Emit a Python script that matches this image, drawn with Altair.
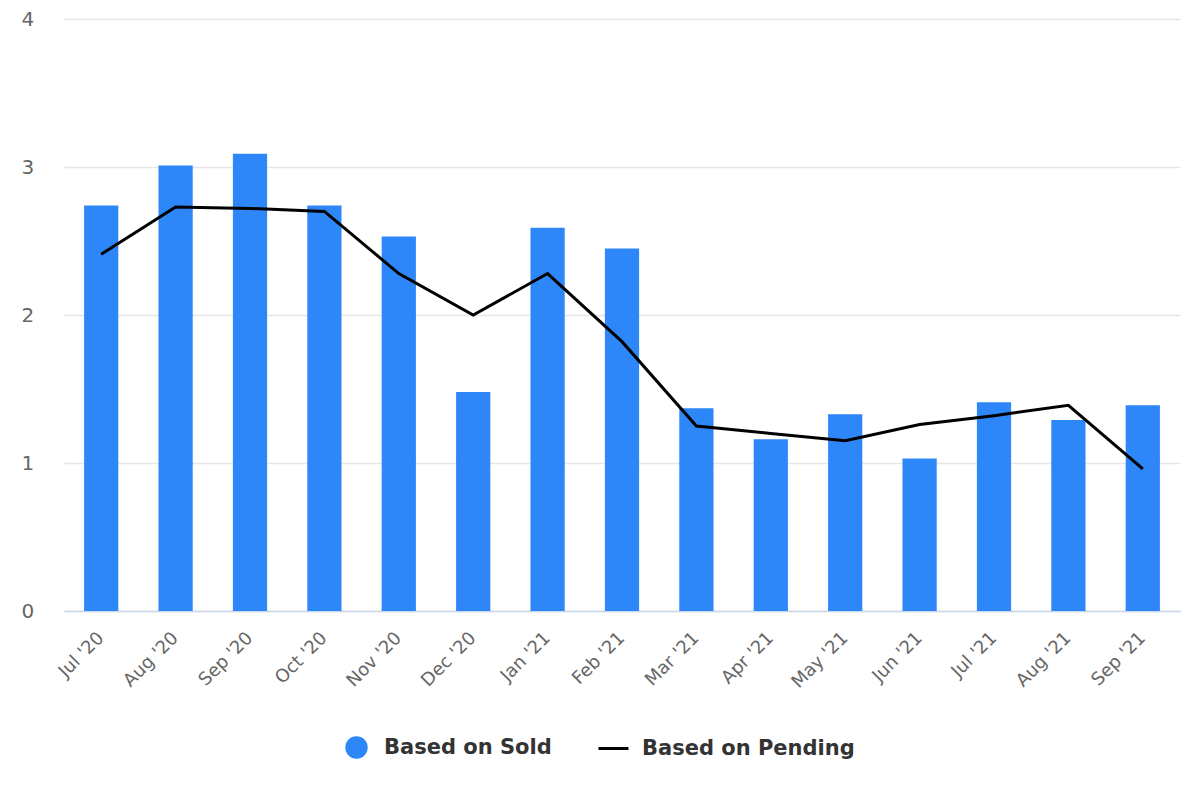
import altair as alt
import pandas as pd

months = ["Jul '20", "Aug '20", "Sep '20", "Oct '20", "Nov '20", "Dec '20",
          "Jan '21", "Feb '21", "Mar '21", "Apr '21", "May '21", "Jun '21",
          "Jul '21", "Aug '21", "Sep '21"]
sold = [2.74, 3.01, 3.09, 2.74, 2.53, 1.48, 2.59, 2.45, 1.37, 1.16, 1.33, 1.03, 1.41, 1.29, 1.39]
pending = [2.41, 2.73, 2.72, 2.70, 2.28, 2.00, 2.28, 1.82, 1.25, 1.20, 1.15, 1.26, 1.32, 1.39, 0.96]
series_sold = "Based on Sold"
series_pending = "Based on Pending"

df = pd.DataFrame({
    "month": months,
    "sold": sold,
    "pending": pending,
    "s1": [series_sold] * len(months),
    "s2": [series_pending] * len(months),
})

FONT = "DejaVu Sans"
BLUE = "#2d87f9"

x_enc = alt.X(
    "month:N", sort=months, title=None,
    scale=alt.Scale(paddingInner=0.54),
    axis=alt.Axis(labelAngle=-45, labelAlign="right", labelBaseline="middle",
                  labelFontSize=18, labelColor="#666666", labelFont=FONT,
                  labelPadding=24, ticks=False, tickSize=0,
                  domainColor="#ccd6eb", domainWidth=1.5, grid=False),
)

y_scale = alt.Scale(domain=[0, 4])
y_axis = alt.Axis(values=[0, 1, 2, 3, 4], labelFontSize=20, labelColor="#666666",
                  labelFont=FONT, labelAlign="left", labelPadding=43,
                  ticks=False, tickSize=0, domain=False, gridColor="#e6e6e6",
                  gridWidth=1.5, title=None)

base = alt.Chart(df)

bars = base.mark_bar(color=BLUE).encode(
    x=x_enc,
    y=alt.Y("sold:Q", scale=y_scale, axis=y_axis),
    fill=alt.Fill("s1:N", scale=alt.Scale(range=[BLUE]),
                  legend=alt.Legend(title=None, orient="none", legendX=281, legendY=717,
                                    symbolType="circle", symbolSize=500,
                                    symbolStrokeWidth=0, labelFontSize=21,
                                    labelFont=FONT, labelFontWeight="bold",
                                    labelColor="#333333", labelOffset=16,
                                    labelLimit=400)),
)

line = base.mark_line(color="black", strokeWidth=3).encode(
    x=x_enc,
    y=alt.Y("pending:Q", scale=y_scale, axis=y_axis),
    stroke=alt.Stroke("s2:N", scale=alt.Scale(range=["black"]),
                      legend=alt.Legend(title=None, orient="none", legendX=533, legendY=713,
                                        symbolType="stroke", symbolSize=900,
                                        symbolStrokeWidth=3, labelFontSize=21,
                                        labelFont=FONT, labelFontWeight="bold",
                                        labelColor="#333333", labelOffset=12,
                                        labelLimit=400)),
)

chart = alt.layer(bars, line).properties(
    width=1116, height=592,
    autosize=alt.AutoSizeParams(type="none"),
    padding={"left": 56, "top": 11, "right": 12, "bottom": 181},
    background="white",
).configure_view(stroke=None)

chart.save("out.html", embed_options={"renderer": "svg", "actions": False})
